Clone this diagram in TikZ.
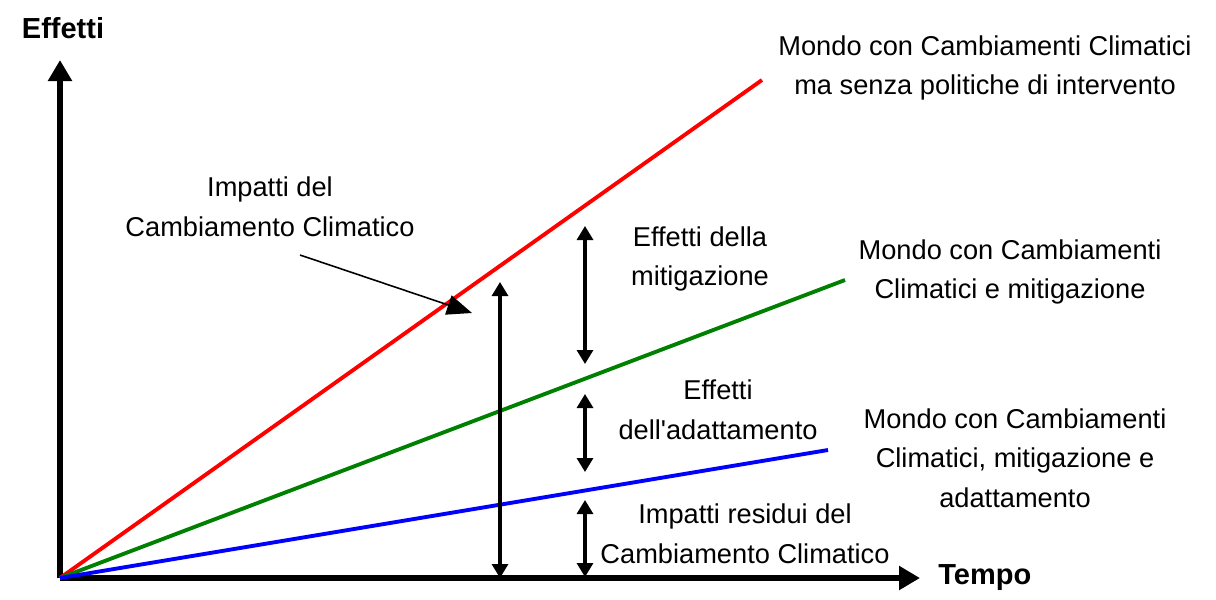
\documentclass[tikz,border=0pt]{standalone}
\usepackage{fontspec}
\setmainfont{Liberation Sans}
\usetikzlibrary{arrows.meta,positioning}

\begin{document}
\begin{tikzpicture}[%
    x=0.02cm, y=-0.02cm,        % one unit is one pixel of the layout
    font=\fontsize{15.5}{22.5}\selectfont
    ]

\tikzset{
    lbl/.style={align=center, inner sep=0pt},
    title/.style={font=\fontsize{16.5}{18}\selectfont\bfseries, inner sep=0pt},
    % axes and lines
    axis/.style={-{Triangle[length=0.42cm, width=0.46cm]}, line width=3.4pt},
    world/.style={line width=2.2pt},
    span/.style={{Triangle[length=0.28cm, width=0.32cm]}-{Triangle[length=0.28cm, width=0.32cm]}, line width=1.8pt},
    pointer/.style={-{Triangle[length=0.5cm, width=0.4cm]}, line width=0.9pt}
}

\useasboundingbox (0,0) rectangle (1216,599);

%% Axes
\coordinate (O) at (60,578);
\coordinate (ytop) at (60,60);
\coordinate (xend) at (920,578);
    \draw [axis] (O) -- (ytop);
    \draw [axis] (O) -- (xend);
\node [title] (effetti) at (63,28) {Effetti};
\node [title, right=18 of xend] (tempo) {Tempo};

%% Worlds
\coordinate (rend) at (762,80);
\coordinate (gend) at (845,280);
\coordinate (bend) at (828,450);
    \draw [world, red] (O) -- (rend);
    \draw [world, green!50!black] (O) -- (gend);
    \draw [world, blue] (O) -- (bend);

\node [lbl] (noint) at (985,68) {Mondo con Cambiamenti Climatici\\ma senza politiche di intervento};
\node [lbl] (mitig) at (1010,272) {Mondo con Cambiamenti\\Climatici e mitigazione};
\node [lbl] (adatt) at (1015,458) {Mondo con Cambiamenti\\Climatici, mitigazione e\\adattamento};

%% Impacts
\node [lbl] (impatti) at (270,207) {Impatti del\\Cambiamento Climatico};
\coordinate (p1) at (300,255);
\coordinate (p2) at (472,313);
    \draw [pointer] (p1) -- (p2);

\coordinate (i1) at (500,282);
\coordinate (i2) at (500,578);
    \draw [span] (i1) -- (i2);

%% Effects
\coordinate (m1) at (585,226);
\coordinate (m2) at (585,364);
    \draw [span] (m1) -- (m2);
\node [lbl] (effmit) at (700,259) {Effetti della\\mitigazione};

\coordinate (a1) at (585,394);
\coordinate (a2) at (585,472);
    \draw [span] (a1) -- (a2);
\node [lbl] (effad) at (718,410) {Effetti\\dell\textquotesingle adattamento};

\coordinate (s1) at (585,500);
\coordinate (s2) at (585,577);
    \draw [span] (s1) -- (s2);
\node [lbl] (resid) at (745,534) {Impatti residui del\\Cambiamento Climatico};
\end{tikzpicture}
\end{document}
